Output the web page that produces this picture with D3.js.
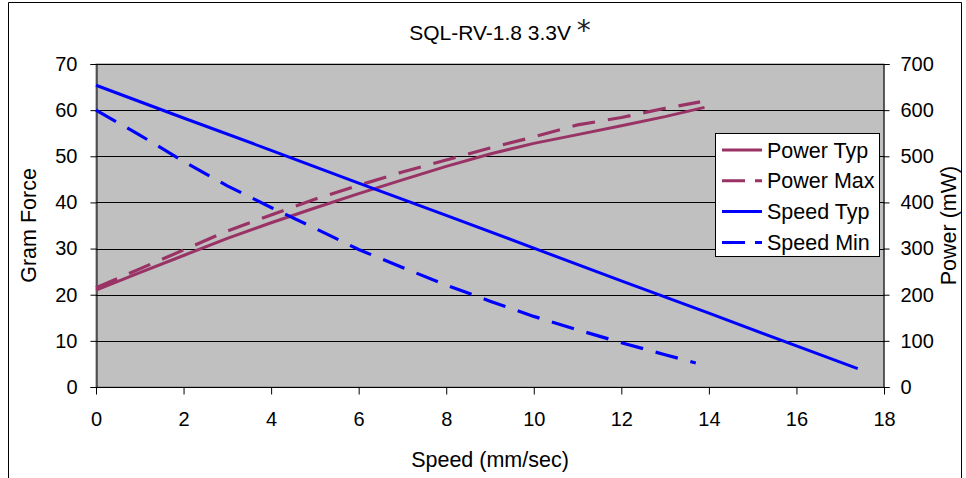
<!DOCTYPE html>
<html>
<head>
<meta charset="utf-8">
<script src="https://cdn.jsdelivr.net/npm/d3@7"></script>
<style>
  html, body { margin: 0; padding: 0; background: #fff; }
  svg { display: block; }
  text { font-family: "Liberation Sans", Arial, sans-serif; fill: #000; }
</style>
</head>
<body>
<svg id="chart" width="966" height="478"></svg>
<script>
// ---- data ----
const title = "SQL-RV-1.8 3.3V";
const xTicks = [0, 2, 4, 6, 8, 10, 12, 14, 16, 18];
const yLeftTicks = [0, 10, 20, 30, 40, 50, 60, 70];
const yRightTicks = [0, 100, 200, 300, 400, 500, 600, 700];

// Speed (mm/sec) vs Gram Force
const speedTypX = [0, 2, 4, 6, 8, 10, 12, 14, 16, 17.4];
const speedTypY = [65.4, 58.3, 51.3, 44.2, 37.2, 30.1, 23.0, 16.0, 8.9, 4.0];
const speedMinX = [0, 1, 2, 3, 4, 5, 6, 7, 8, 9, 10, 11, 12, 13, 13.7];
const speedMinY = [60, 54.6, 48.9, 43.6, 38.9, 34.4, 29.8, 25.9, 22.1, 18.6, 15.3, 12.4, 9.6, 7.0, 5.2];
// Power (mW)
const powerTypX = [0, 1, 2, 3, 4, 5, 6, 7, 8, 9, 10, 11, 12, 13, 13.9];
const powerTypY = [210, 248, 285, 322, 356, 388, 419, 449, 478, 505, 528, 547, 566, 586, 606];
const powerMaxX = [0, 1, 2, 3, 4, 5, 6, 7, 8, 9, 10, 11, 12, 13, 13.8];
const powerMaxY = [215, 256, 297, 338, 373, 407, 437, 466, 492, 518, 542, 568, 584, 604, 618];

const seriesNames = ["Power Typ", "Power Max", "Speed Typ", "Speed Min"];

// ---- layout ----
const svg = d3.select("#chart");
const plot = { left: 96, right: 884, top: 64, bottom: 387 };
const x = d3.scaleLinear().domain([0, 18]).range([plot.left, plot.right]);
const yL = d3.scaleLinear().domain([0, 70]).range([plot.bottom, plot.top]);
const yR = d3.scaleLinear().domain([0, 700]).range([plot.bottom, plot.top]);

// outer frame
svg.append("path")
  .attr("d", "M8.5,478 L8.5,2.5 L961.5,2.5 L961.5,478")
  .attr("fill", "none").attr("stroke", "#000").attr("stroke-width", 1);

// plot background
svg.append("rect")
  .attr("x", plot.left).attr("y", plot.top)
  .attr("width", plot.right - plot.left).attr("height", plot.bottom - plot.top)
  .attr("fill", "#C0C0C0").attr("stroke", "#808080").attr("stroke-width", 1);

// gridlines
svg.append("g").selectAll("line").data(yLeftTicks.filter(d => d > 0)).join("line")
  .attr("x1", plot.left).attr("x2", plot.right)
  .attr("y1", d => Math.round(yL(d)) + 0.5).attr("y2", d => Math.round(yL(d)) + 0.5)
  .attr("stroke", "#000").attr("stroke-width", 1);

// axes
const fs = "20px";
const fsBig = "21.5px";
const gx = svg.append("g").attr("transform", `translate(0,${plot.bottom + 0.5})`)
  .call(d3.axisBottom(x).tickValues(xTicks).tickSize(7).tickPadding(17).tickFormat(d3.format("d")));
const gl = svg.append("g").attr("transform", `translate(${plot.left + 0.5},0)`)
  .call(d3.axisLeft(yL).tickValues(yLeftTicks).tickSize(6).tickPadding(13).tickFormat(d3.format("d")));
const gr = svg.append("g").attr("transform", `translate(${plot.right - 0.5},0)`)
  .call(d3.axisRight(yR).tickValues(yRightTicks).tickSize(6).tickPadding(11).tickFormat(d3.format("d")));
[gx, gl, gr].forEach(g => {
  g.select(".domain").attr("stroke", "#000").attr("stroke-width", 1);
  g.selectAll(".tick line").attr("stroke", "#000");
  g.selectAll(".tick text").attr("font-size", fs).attr("font-family", "Liberation Sans, Arial, sans-serif").attr("fill", "#000");
});
gx.select(".domain").attr("d", `M${plot.left},0H${plot.right}`);

// series
const mk = (xs, ys) => xs.map((v, i) => [v, ys[i]]);
const lineL = d3.line().x(d => x(d[0])).y(d => yL(d[1]));
const lineR = d3.line().x(d => x(d[0])).y(d => yR(d[1]));
const purple = "#993366", blue = "#0000FF";
const dash = "23,13";

svg.append("path").datum(mk(powerTypX, powerTypY)).attr("d", lineR)
  .attr("fill", "none").attr("stroke", purple).attr("stroke-width", 3);
svg.append("path").datum(mk(powerMaxX, powerMaxY)).attr("d", lineR)
  .attr("fill", "none").attr("stroke", purple).attr("stroke-width", 3.2).attr("stroke-dasharray", dash);
svg.append("path").datum(mk(speedTypX, speedTypY)).attr("d", lineL)
  .attr("fill", "none").attr("stroke", blue).attr("stroke-width", 3);
svg.append("path").datum(mk(speedMinX, speedMinY)).attr("d", lineL)
  .attr("fill", "none").attr("stroke", blue).attr("stroke-width", 3.2).attr("stroke-dasharray", dash);

// title
const t = svg.append("text").attr("x", 500).attr("y", 40).attr("text-anchor", "middle").attr("font-size", "21px");
t.append("tspan").text(title + " ");
t.append("tspan").attr("font-size", "28px").attr("font-family", "DejaVu Sans, sans-serif")
  .attr("font-weight", "normal").attr("fill", "#222").text("*");

// axis titles
svg.append("text").attr("x", 490).attr("y", 467).attr("text-anchor", "middle").attr("font-size", fsBig).text("Speed (mm/sec)");
svg.append("text").attr("transform", `translate(36,${(plot.top + plot.bottom) / 2}) rotate(-90)`)
  .attr("text-anchor", "middle").attr("font-size", fsBig).text("Gram Force");
svg.append("text").attr("transform", `translate(956,${(plot.top + plot.bottom) / 2}) rotate(-90)`)
  .attr("text-anchor", "middle").attr("font-size", fsBig).text("Power (mW)");

// legend
const lg = svg.append("g");
lg.append("rect").attr("x", 715.5).attr("y", 133.5).attr("width", 164).attr("height", 123)
  .attr("fill", "#fff").attr("stroke", "#000").attr("stroke-width", 1);
const legStyles = [
  { c: purple, d: null }, { c: purple, d: "23,10" }, { c: blue, d: null }, { c: blue, d: "23,10" }
];
seriesNames.forEach((name, i) => {
  const cy = 150 + i * 30.8;
  lg.append("line").attr("x1", 722).attr("x2", 762).attr("y1", cy).attr("y2", cy)
    .attr("stroke", legStyles[i].c).attr("stroke-width", 3)
    .attr("stroke-dasharray", legStyles[i].d);
  lg.append("text").attr("x", 767).attr("y", cy + 7.5).attr("font-size", fsBig).text(name);
});
</script>
</body>
</html>
